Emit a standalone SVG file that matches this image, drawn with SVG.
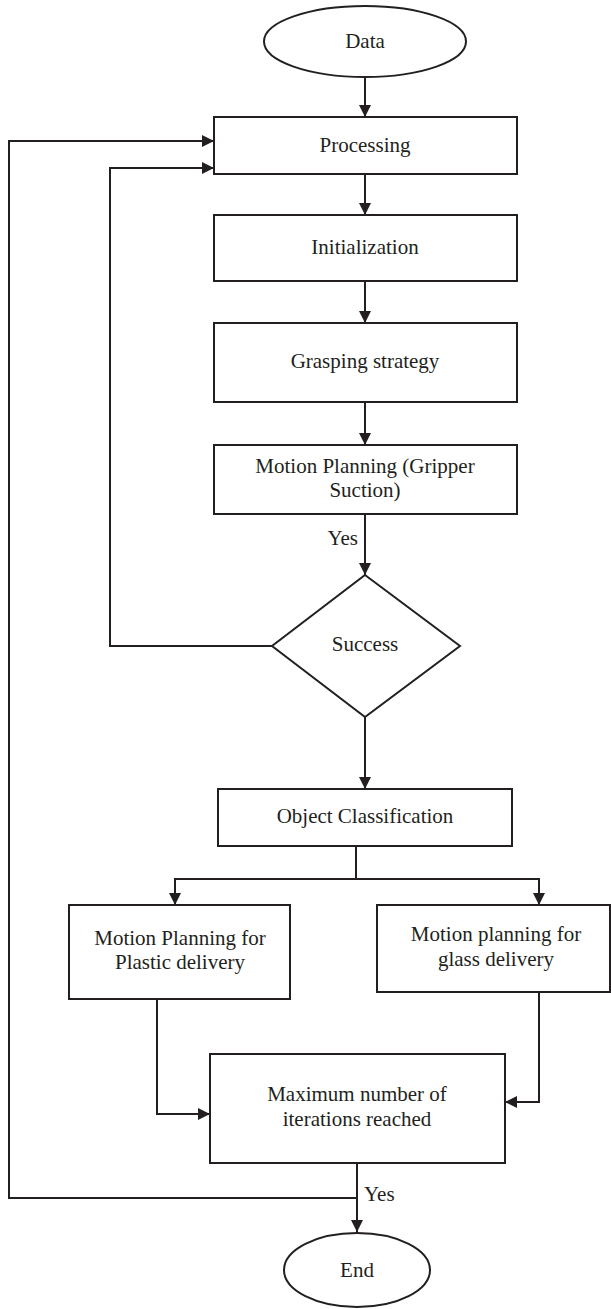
<svg xmlns="http://www.w3.org/2000/svg" width="611" height="1309" viewBox="0 0 611 1309">
<style>
.n{fill:#fff;stroke:#231f20;stroke-width:2}
.t{font-family:"Liberation Serif",serif;font-size:21px;fill:#231f20;text-anchor:middle}
.c{fill:none;stroke:#231f20;stroke-width:2}
</style>
<defs>
<marker id="ah" markerUnits="userSpaceOnUse" markerWidth="12" markerHeight="12" viewBox="0 0 12 12" refX="12" refY="6" orient="auto">
<path d="M0,0 L12,6 L0,12 Z" fill="#231f20"/>
</marker>
</defs>
<rect width="611" height="1309" fill="#fff"/>
<g id="connectors">
<path class="c" d="M365,77 V117" marker-end="url(#ah)"/>
<path class="c" d="M365,174 V215" marker-end="url(#ah)"/>
<path class="c" d="M365,281 V323" marker-end="url(#ah)"/>
<path class="c" d="M365,402 V445" marker-end="url(#ah)"/>
<path class="c" d="M365,514 V575" marker-end="url(#ah)"/>
<path class="c" d="M272,646 H110 V168 H214" marker-end="url(#ah)"/>
<path class="c" d="M365,717 V789" marker-end="url(#ah)"/>
<path class="c" d="M356,846 V879"/>
<path class="c" d="M356,879 H175 V905" marker-end="url(#ah)"/>
<path class="c" d="M356,879 H539 V905" marker-end="url(#ah)"/>
<path class="c" d="M157,999 V1114 H210" marker-end="url(#ah)"/>
<path class="c" d="M539,992 V1102 H505" marker-end="url(#ah)"/>
<path class="c" d="M357,1163 V1232" marker-end="url(#ah)"/>
<path class="c" d="M357,1198 H9 V141 H214" marker-end="url(#ah)"/>
<text class="t" x="358" y="545" style="text-anchor:end">Yes</text>
<text class="t" x="364" y="1201" style="text-anchor:start">Yes</text>
</g>
<g id="data"><ellipse class="n" cx="365" cy="41.5" rx="101" ry="35.5"/><text class="t" x="365" y="48">Data</text></g>
<g id="processing"><rect class="n" x="214" y="117" width="303" height="57"/><text class="t" x="365" y="152">Processing</text></g>
<g id="initialization"><rect class="n" x="214" y="215" width="303" height="66"/><text class="t" x="365" y="254">Initialization</text></g>
<g id="grasping"><rect class="n" x="214" y="323" width="303" height="79"/><text class="t" x="365" y="368">Grasping strategy</text></g>
<g id="motion"><rect class="n" x="214" y="445" width="303" height="69"/><text class="t" x="365" y="473">Motion Planning (Gripper</text><text class="t" x="365" y="497">Suction)</text></g>
<g id="success"><polygon class="n" points="365,575 460,646 365,717 272,646"/><text class="t" x="365" y="651">Success</text></g>
<g id="classification"><rect class="n" x="218" y="789" width="294" height="57"/><text class="t" x="365" y="823">Object Classification</text></g>
<g id="plastic"><rect class="n" x="69" y="905" width="221" height="94"/><text class="t" x="180" y="945">Motion Planning for</text><text class="t" x="180" y="969">Plastic delivery</text></g>
<g id="glass"><rect class="n" x="377" y="905" width="233" height="87"/><text class="t" x="496" y="941">Motion planning for</text><text class="t" x="496" y="966">glass delivery</text></g>
<g id="maxiter"><rect class="n" x="210" y="1054" width="295" height="109"/><text class="t" x="357" y="1101">Maximum number of</text><text class="t" x="357" y="1126">iterations reached</text></g>
<g id="end"><ellipse class="n" cx="357" cy="1270" rx="73" ry="37"/><text class="t" x="357" y="1277">End</text></g>
</svg>
